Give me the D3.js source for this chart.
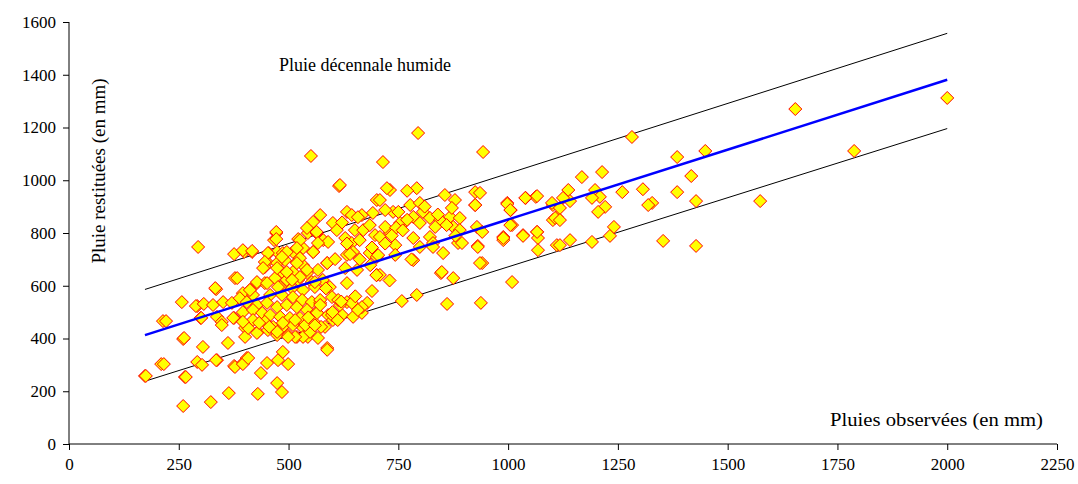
<!DOCTYPE html>
<html><head><meta charset="utf-8">
<script src="https://cdn.jsdelivr.net/npm/d3@7"></script>
<style>body{margin:0;background:#fff}svg{display:block}text{font-family:"Liberation Serif","Times New Roman",serif;fill:#000}</style>
</head><body><svg id="c" width="1078" height="484"></svg>
<script>
const xTicks=[0,250,500,750,1000,1250,1500,1750,2000,2250];
const yTicks=[0,200,400,600,800,1000,1200,1400,1600];
const lineX=[173,2000];
const fitY=[413,1381];
const upperY=[586,1557];
const lowerY=[238,1196];
const obsX=[173,210,214,257,260,260,264,294,292,300,376,399,417,455,474,378,335,289,307,328,351,371,221,301,337,348,376,262,305,362,216,292,303,337,376,396,405,451,437,476,487,499,175,266,364,430,474,485,323,
472,467,522,544,564,579,556,533,510,487,451,446,474,492,519,533,588,485,510,542,567,469,496,522,553,578,428,446,481,508,533,560,412,396,419,458,485,510,531,553,572,389,405,428,451,474,496,519,542,564,396,419,440,458,481,503,526,549,419,446,465,487,510,533,560,401,430,453,474,499,519,544,567,583,590,588,
615,572,556,542,472,472,564,601,610,633,644,692,701,651,670,685,697,629,644,662,590,567,556,526,519,496,485,453,633,647,685,701,588,606,526,542,656,446,442,474,496,519,526,508,383,333,428,451,476,560,594,633,701,412,396,417,599,633,679,572,
795,943,715,731,792,724,856,708,879,925,936,925,998,1006,1040,1063,1102,1111,777,799,738,720,806,822,784,765,754,799,845,868,890,872,875,834,731,720,784,822,890,929,941,1009,989,1034,1066,1068,1102,799,829,886,931,743,708,
378,396,408,335,588,574,533,515,499,474,549,401,428,408,348,374,396,433,456,487,515,538,565,601,622,647,667,644,667,617,572,599,
895,931,989,1068,1111,941,847,875,1009,792,758,861,938,829,852,743,784,708,
1168,1214,1260,1198,1209,1191,1221,1205,1137,1141,1125,1100,1118,1107,1118,998,1005,1039,1066,925,1005,989,1034,1066,1118,1141,1191,1232,1241,936,849,
1282,1385,1449,1417,1307,1385,1328,1319,1428,1574,1353,1428,1654,1788,2000,
551,617,667,629,613,658,704,686,658,633,622,
640,662,690,720,745,770,700,735,760,780,652,690,730,620,585,600,612,560,545,750,770,810,840,860,880];
const obsY=[258,303,466,538,398,144,254,747,523,478,720,728,728,724,728,629,587,523,531,527,538,535,466,478,482,463,478,402,368,383,303,311,300,318,296,307,326,307,269,318,349,303,258,254,193,190,231,197,159,
800,773,777,800,800,773,728,743,728,724,690,671,686,697,690,678,686,652,652,648,660,629,622,622,614,622,610,610,595,591,584,595,584,572,565,565,565,557,546,538,535,553,538,527,535,519,527,519,508,500,500,508,497,489,482,478,478,470,470,463,444,444,451,440,459,440,425,432,413,413,406,406,402,444,489,364,
978,868,842,819,804,777,804,838,811,880,868,876,925,811,811,830,792,781,762,773,766,762,728,773,743,728,709,724,717,728,724,709,686,701,705,660,660,690,667,667,652,686,633,622,629,591,614,610,595,614,595,610,641,584,735,732,557,538,535,546,
1179,1107,1069,963,970,970,944,925,925,955,952,906,914,887,933,937,906,861,906,914,880,887,880,857,861,842,838,838,849,861,857,895,823,823,800,823,781,785,811,823,804,830,785,792,804,781,849,747,762,762,751,754,785,
292,303,326,318,357,444,406,406,406,425,425,406,421,440,451,478,463,459,444,459,470,451,497,470,489,482,497,535,519,527,527,489,
762,747,773,735,754,686,648,629,614,565,542,531,535,747,724,717,697,641,
1012,1031,955,963,937,933,899,880,963,921,933,914,895,857,849,910,887,933,940,906,830,781,789,804,754,773,766,789,823,686,652,
1164,1088,1111,1016,966,955,914,906,921,921,770,751,1270,1111,1312,
1092,982,868,667,546,508,716,678,860,760,840,
720,700,745,760,820,850,640,790,810,700,560,580,620,540,590,500,470,450,480,880,960,900,870,830,790];
const svg=d3.select("#c");
const x=d3.scaleLinear().domain([0,2250]).range([69,1057]);
const y=d3.scaleLinear().domain([0,1600]).range([444,22]);
const ya=svg.append("g").attr("transform","translate(69,0)").call(d3.axisLeft(y).tickValues(yTicks).tickSize(6).tickPadding(7).tickFormat(d3.format("d")));
const xa=svg.append("g").attr("transform","translate(0,444)").call(d3.axisBottom(x).tickValues(xTicks).tickSize(6).tickPadding(8).tickFormat(d3.format("d")));
[ya,xa].forEach(a=>{a.selectAll("text").style("font-size","17px").style("font-family","Liberation Serif");a.selectAll("path,line").attr("stroke","#000");a.select(".domain").attr("d",a===ya?"M0,444V22":"M69,0H1057");});
const ln=d3.line().x(d=>x(d[0])).y(d=>y(d[1]));
svg.append("path").attr("d",ln(lineX.map((v,i)=>[v,upperY[i]]))).attr("stroke","#000").attr("fill","none").attr("stroke-width",1);
svg.append("path").attr("d",ln(lineX.map((v,i)=>[v,lowerY[i]]))).attr("stroke","#000").attr("fill","none").attr("stroke-width",1);
const pts=obsX.map((v,i)=>[v,obsY[i]]);
svg.append("g").selectAll("path").data(pts).join("path")
 .attr("d","M0,-6.5L6.5,0L0,6.5L-6.5,0Z").attr("transform",d=>`translate(${x(d[0])},${y(d[1])})`)
 .attr("fill","#ffff00").attr("stroke","#ff0000").attr("stroke-width",1);
svg.append("path").attr("d",ln(lineX.map((v,i)=>[v,fitY[i]]))).attr("stroke","#0000ff").attr("fill","none").attr("stroke-width",2.5);
svg.append("text").attr("x",365).attr("y",71).attr("text-anchor","middle").style("font-size","18px").text("Pluie décennale humide");
svg.append("text").attr("x",1043).attr("y",426).attr("text-anchor","end").style("font-size","18px").attr("textLength",213).attr("lengthAdjust","spacingAndGlyphs").text("Pluies observées (en mm)");
svg.append("text").attr("transform","translate(105,171) rotate(-90)").attr("text-anchor","middle").style("font-size","19px").text("Pluie restituées (en mm)");
</script></body></html>
